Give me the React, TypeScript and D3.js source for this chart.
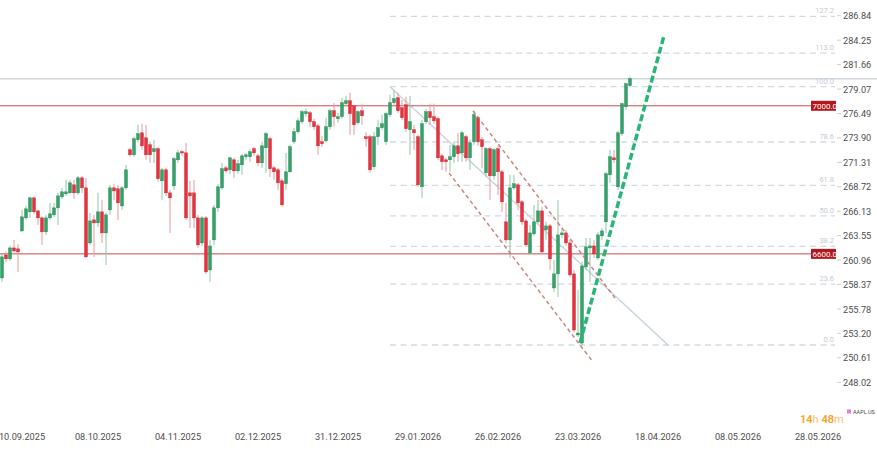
import React from "react";
import * as d3 from "d3";

const W = 877;
const H = 450;

const opens = [259.07,261.51,261.09,262.25,262.15,264.05,265.43,266.07,267.55,266.17,265.43,263.95,265.43,265.75,266.49,267.66,267.98,268.08,268.93,268.08,269.67,268.61,262.78,265.22,264.90,266.07,263.84,266.28,268.61,268.51,266.70,268.61,272.64,272.11,273.70,274.44,273.91,273.17,272.43,272.75,269.35,270.52,268.08,268.82,271.58,272.43,272.32,268.08,268.08,265.43,262.78,265.43,259.92,263.10,266.49,268.61,270.73,270.52,271.58,270.41,271.05,271.90,271.90,272.75,272.00,271.26,272.85,273.81,270.73,270.52,269.35,269.04,270.31,273.49,274.55,275.61,276.46,276.56,275.61,275.18,273.49,273.59,275.08,276.77,275.93,276.14,277.52,277.83,277.30,275.50,276.77,274.02,274.02,270.84,274.02,274.97,273.49,276.35,277.62,278.15,277.09,277.41,274.76,274.76,274.02,268.72,275.61,276.67,276.14,275.93,272.00,271.58,271.58,271.90,273.06,272.32,274.02,271.79,273.49,276.03,273.70,270.20,272.75,269.88,272.75,270.31,265.01,263.10,268.61,268.93,267.13,265.11,261.72,263.74,265.01,266.17,264.16,264.58,258.01,259.50,263.63,263.84,262.78,259.50,253.03,252.18,260.24,262.25,262.46,261.19,263.52,265.01,269.99,271.79,268.72,274.34,277.20,279.42];
const highs = [261.62,261.83,262.46,263.10,262.68,266.28,266.70,267.66,267.66,266.28,265.54,265.75,267.02,267.02,268.08,268.61,269.46,269.46,269.46,269.88,269.88,269.67,265.96,265.75,268.08,267.34,265.96,268.93,269.04,268.93,268.82,271.05,272.85,274.02,275.29,275.40,275.29,273.49,273.70,272.96,270.73,270.73,268.40,271.90,272.64,272.64,273.38,269.35,269.46,265.75,265.64,265.64,263.10,266.81,269.04,271.26,270.94,271.90,271.79,271.58,272.22,272.32,272.75,272.96,272.22,273.49,274.55,274.02,270.94,270.73,269.57,272.32,273.17,274.97,276.03,276.88,276.99,276.77,275.93,275.40,274.12,276.03,276.99,277.62,276.56,278.15,278.36,278.68,277.41,276.88,277.52,274.55,274.23,274.55,275.82,276.35,276.67,278.47,279.00,278.68,277.94,278.26,278.36,275.29,274.23,275.82,276.99,277.52,277.52,276.14,272.22,271.79,273.17,273.38,274.44,274.65,274.23,273.70,276.77,276.24,274.02,272.96,272.96,272.85,273.06,270.52,267.02,269.99,269.99,269.14,267.34,265.33,264.69,266.81,267.34,266.60,265.01,264.80,260.98,267.34,264.37,264.16,263.10,259.92,257.80,260.77,263.31,263.31,263.10,263.95,264.37,270.31,272.64,272.64,274.65,277.62,279.74,280.38];
const lows = [258.65,260.77,260.87,261.83,259.71,263.95,265.22,265.43,265.86,264.69,262.57,263.63,265.22,265.54,264.69,267.45,267.76,267.98,267.45,267.87,268.08,261.19,262.57,261.30,264.48,262.78,260.45,265.75,267.34,265.22,266.28,268.40,271.90,271.90,273.38,272.64,271.58,271.26,271.26,269.25,267.34,267.76,263.84,268.40,271.26,272.00,265.22,264.37,264.37,262.25,262.46,259.50,258.65,262.57,266.07,268.40,270.20,270.10,269.67,270.10,269.99,271.58,271.37,272.00,270.94,270.73,270.20,269.78,269.46,268.40,266.60,268.40,270.20,273.28,274.34,275.40,276.14,275.08,274.76,272.11,272.96,273.38,274.76,275.08,275.50,275.93,277.30,274.23,274.23,275.29,275.29,272.96,270.20,270.52,273.17,274.76,273.17,276.14,277.41,276.56,275.82,274.55,272.11,272.64,268.72,267.55,275.40,275.29,275.40,271.58,270.52,270.31,270.31,271.26,271.37,271.37,271.37,270.52,273.17,273.06,270.73,269.78,267.34,269.46,267.87,266.07,262.78,261.19,268.40,266.28,264.69,262.36,261.51,263.52,264.80,261.62,263.10,259.92,257.59,257.06,263.31,262.46,259.18,253.35,252.82,251.97,259.92,258.65,261.19,260.98,263.10,263.84,269.14,271.26,268.40,274.12,276.88,279.32];
const closes = [261.30,261.09,262.25,261.93,261.83,265.54,266.39,267.55,266.07,265.43,263.95,265.43,265.86,266.49,267.76,268.19,268.19,269.14,268.08,269.67,268.61,261.30,265.11,264.90,266.07,263.84,265.75,268.61,268.29,267.02,268.61,270.52,272.11,273.81,274.34,273.06,272.11,272.11,272.75,269.57,270.52,268.08,267.55,271.69,272.32,272.32,265.43,267.76,265.43,262.57,265.43,259.71,262.46,266.49,268.72,270.63,270.41,271.79,270.41,271.16,272.00,272.11,272.43,272.32,271.26,273.06,274.34,270.63,270.31,269.14,266.81,270.31,272.96,274.55,275.71,276.67,276.67,275.61,275.08,273.06,273.28,275.08,276.77,276.14,276.14,277.62,277.83,276.46,275.29,276.67,276.24,273.81,270.52,274.02,274.97,275.40,276.46,277.62,278.05,276.77,276.03,274.87,275.61,274.44,268.93,275.40,276.67,276.03,275.71,271.79,271.37,271.37,271.90,273.06,272.22,274.44,271.79,273.38,276.35,273.49,272.96,272.75,269.88,272.64,270.31,267.13,263.10,268.61,269.04,267.02,265.01,262.57,263.84,265.01,266.17,261.83,264.58,261.09,259.50,263.63,263.84,262.78,259.39,253.56,253.24,260.34,262.36,262.46,261.62,263.63,264.05,270.10,271.90,271.58,274.44,277.52,279.64,280.17];

const dateLabels = ["10.09.2025","08.10.2025","04.11.2025","02.12.2025","31.12.2025","29.01.2026","26.02.2026","23.03.2026","18.04.2026","08.05.2026","28.05.2026"];
const dateLabelIndex = [4,24,44,64,84,104,124,144,164,184,204];
const priceTicks = [286.84,284.25,281.66,279.07,276.49,273.90,271.31,268.72,266.13,263.55,260.96,258.37,255.78,253.20,250.61,248.02];

const fibLow = 251.97;
const fibHigh = 279.32;
const fibLevels = [0,23.6,38.2,50,61.8,78.6,100,113,127.2];
const fibStartIndex = 97;
const fibDiagEnd = [166.5, fibLow];

const hLevels = [277.30, 261.62];
const hLabels = ["7000.0", "6600.0"];

// drawn trend lines: [index, price] pairs
const channelUpper = [[117.75, 276.77],[153.75, 256.67]];
const channelLower = [[111.75, 270.20],[147.75, 250.17]];
const greenTrend = [[144.5, 252.18],[165.5, 284.72]];

export default function App() {
  const x = d3.scaleLinear().domain([0, 157]).range([2, 630]);
  const y = d3.scaleLinear().domain([248.02, 286.84]).range([382.3, 15.7]);
  const axisFont = "Roboto, 'Noto Sans', sans-serif";
  const lastClose = closes[closes.length - 1];
  const fibX1 = x(fibStartIndex);
  const fibX2 = 835;
  const line = d3.line<number[]>().x((d) => x(d[0])).y((d) => y(d[1]));

  return (
    <svg width={W} height={H} style={{ position: "absolute", left: 0, top: 0, background: "#fff" }} fontFamily={axisFont}>
      <rect x={0} y={0} width={W} height={H} fill="#ffffff" />
      {/* fib levels */}
      {fibLevels.map((lv) => {
        const p = fibLow + ((fibHigh - fibLow) * lv) / 100;
        const yy = y(p);
        return (
          <g key={"fib" + lv}>
            <line x1={fibX1} x2={fibX2} y1={yy} y2={yy} stroke="#d2dae0" strokeWidth={1.3} strokeDasharray="6 4.5" />
            <text x={834} y={yy - 3} fontSize={7.5} fill="#c4ccd4" textAnchor="end">{lv.toFixed(1)}</text>
          </g>
        );
      })}
      {/* fib diagonal */}
      <line x1={fibX1} y1={y(fibHigh)} x2={x(fibDiagEnd[0])} y2={y(fibDiagEnd[1])} stroke="#c9d3d9" strokeWidth={1.4} />
      {/* current price line */}
      <line x1={0} x2={W} y1={y(lastClose)} y2={y(lastClose)} stroke="#cfd6dc" strokeWidth={1.4} />
      {/* horizontal red levels */}
      {hLevels.map((p, i) => (
        <g key={"h" + i}>
          <line x1={0} x2={811} y1={y(p)} y2={y(p)} stroke="#cf4a4a" strokeWidth={1} />
          <rect x={811} y={y(p) - 5} width={25} height={10} fill="#b3161c" />
          <text x={812.5} y={y(p) + 3} fontSize={8} fill="#ffffff">{hLabels[i]}</text>
        </g>
      ))}
      {/* candles */}
      {opens.map((o, i) => {
        const c = closes[i];
        const up = c >= o;
        const cx = x(i);
        const top = y(Math.max(o, c));
        const bot = y(Math.min(o, c));
        const col = up ? "#33a469" : "#e5333f";
        const wick = up ? "#8fc7a8" : "#e59a9d";
        return (
          <g key={i}>
            <line x1={cx} x2={cx} y1={y(highs[i])} y2={y(lows[i])} stroke={wick} strokeWidth={1} />
            <rect x={cx - 1.5} y={top} width={3} height={Math.max(1.2, bot - top)} fill={col} stroke={up ? "#24834f" : "#c7222d"} strokeWidth={0.4} />
          </g>
        );
      })}
      {/* channel lines */}
      <path d={line(channelUpper) || ""} stroke="#c7706d" strokeWidth={1.5} strokeDasharray="4 3" fill="none" opacity={0.85} />
      <path d={line(channelLower) || ""} stroke="#c7706d" strokeWidth={1.5} strokeDasharray="4 3" fill="none" opacity={0.85} />
      {/* green trend */}
      <path d={line(greenTrend) || ""} stroke="#27b676" strokeWidth={3.5} strokeDasharray="7 3" fill="none" />
      {/* right axis */}
      {priceTicks.map((t) => (
        <g key={"t" + t}>
          <line x1={837} x2={841} y1={y(t)} y2={y(t)} stroke="#d0d0d0" strokeWidth={1} />
          <text x={843} y={y(t) + 3.5} fontSize={9.2} fill="#4d4d4d">{t.toFixed(2)}</text>
        </g>
      ))}
      {/* x axis labels */}
      {dateLabels.map((lab, i) => (
        <text key={lab} x={Math.max(22, x(dateLabelIndex[i]))} y={440} fontSize={9.2} fill="#4d4d4d" textAnchor="middle">{lab}</text>
      ))}
      {/* timer */}
      <text x={800} y={423} fontSize={11}>
        <tspan fill="#f5a21e" fontWeight={600}>14</tspan>
        <tspan fill="#f8c06a">h </tspan>
        <tspan fill="#f5a21e" fontWeight={600}>48</tspan>
        <tspan fill="#f8c06a">m</tspan>
      </text>
      {/* legend */}
      <rect x={847} y={409.5} width={4} height={4} fill="#e47ce4" />
      <text x={853} y={413.5} fontSize={5.5} fill="#444">AAPL.US</text>
    </svg>
  );
}
